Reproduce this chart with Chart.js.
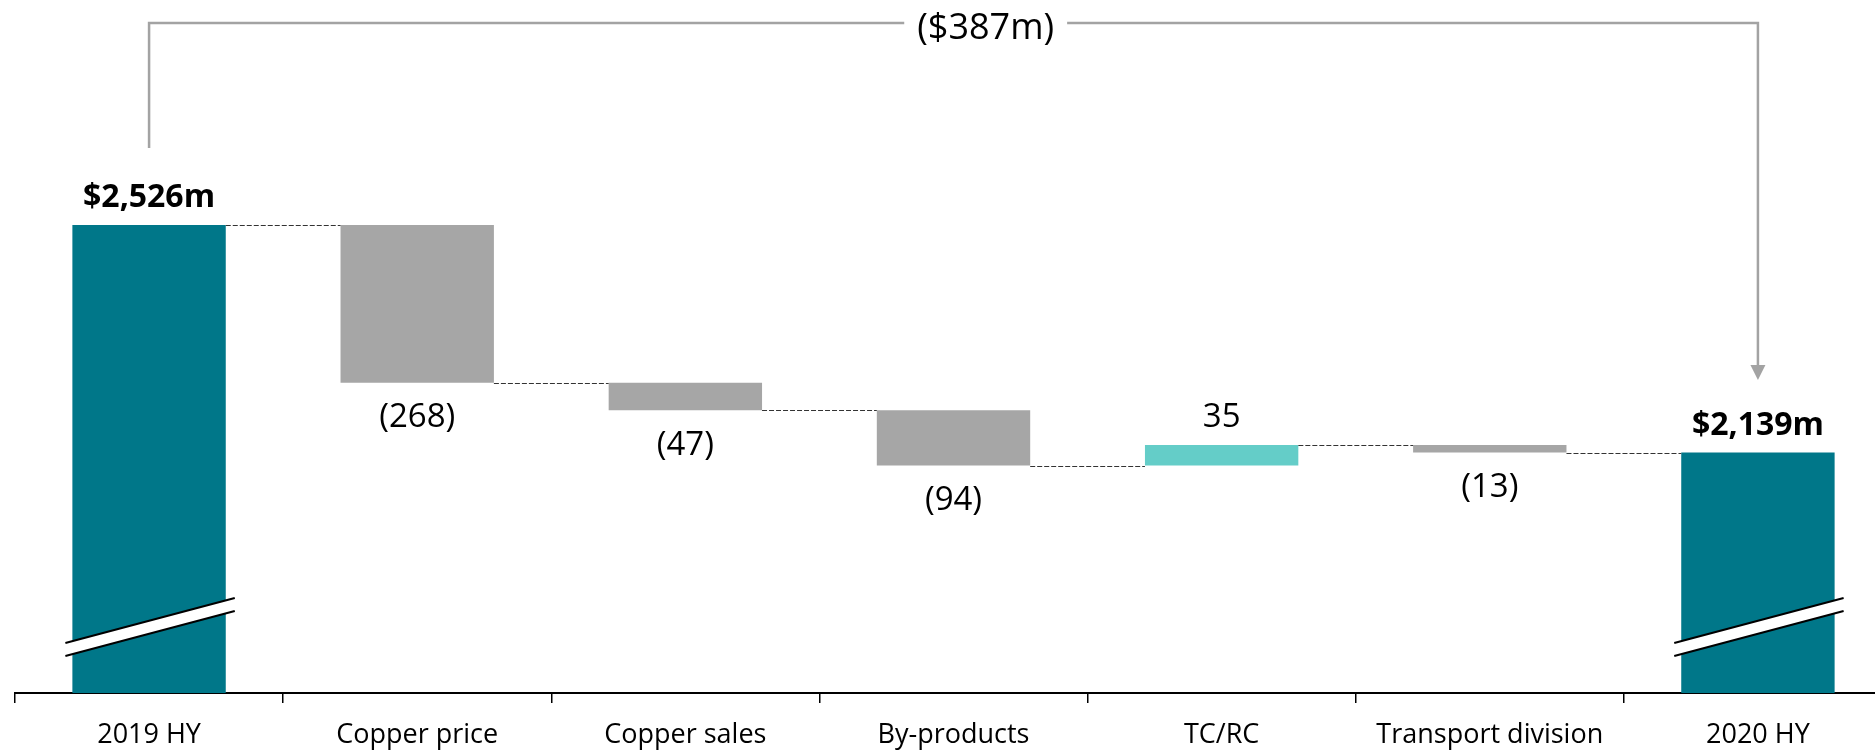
<!DOCTYPE html>
<html>
<head>
<meta charset="utf-8">
<script src="https://cdn.jsdelivr.net/npm/chart.js@4.4.1/dist/chart.umd.min.js"></script>
<style>
  html, body { margin: 0; padding: 0; background: #fff; overflow: hidden; }
  #wrap { position: absolute; left: 0; top: 0; width: 1900px; height: 751px; }
</style>
</head>
<body>
<div id="wrap"><canvas id="bridgeChart"></canvas></div>
<script>
const categories = ['2019 HY', 'Copper price', 'Copper sales', 'By-products', 'TC/RC', 'Transport division', '2020 HY'];
const startValue = 2526;
const changes = [-268, -47, -94, 35, -13];
const endValue = 2139;
const totalChange = -387;
const axisMin = 1730;
const axisMax = 2909;

const TEAL = '#007789';
const GREY = '#a6a6a6';
const LIGHT_TEAL = '#64cdc8';
const FONT = '"Open Sans", sans-serif';

// floating bars: [from, to]
let bars = [[0, startValue]];
let levels = [startValue];
let running = startValue;
changes.forEach(c => {
    bars.push([running, running + c]);
    running += c;
    levels.push(running);
});
bars.push([0, endValue]);

let colors = bars.map((b, i) => {
    if (i === 0 || i === bars.length - 1) return TEAL;
    return changes[i - 1] < 0 ? GREY : LIGHT_TEAL;
});

function money(v) {
    let s = '$' + Math.abs(v).toLocaleString('en-US') + 'm';
    return v < 0 ? '(' + s + ')' : s;
}

const bridgePlugin = {
    id: 'bridge',
    afterDatasetsDraw(chart) {
        const ctx = chart.ctx;
        const meta = chart.getDatasetMeta(0);
        const y = chart.scales.y;
        const area = chart.chartArea;
        const els = meta.data;

        // dashed connectors
        ctx.save();
        ctx.strokeStyle = '#333';
        ctx.lineWidth = 1;
        ctx.setLineDash([5, 2]);
        for (let i = 0; i < els.length - 1; i++) {
            let lvl = levels[i];
            let py = Math.round(y.getPixelForValue(lvl)) + 0.5;
            ctx.beginPath();
            ctx.moveTo(els[i].x + els[i].width / 2, py);
            ctx.lineTo(els[i + 1].x - els[i + 1].width / 2, py);
            ctx.stroke();
        }
        ctx.restore();

        // axis break marks on total bars
        [0, els.length - 1].forEach(i => {
            let el = els[i];
            let l = el.x - el.width / 2 - 7;
            let r = el.x + el.width / 2 + 9;
            let b = area.bottom;
            ctx.save();
            ctx.fillStyle = '#fff';
            ctx.beginPath();
            ctx.moveTo(l, b - 50);
            ctx.lineTo(r, b - 95);
            ctx.lineTo(r, b - 82);
            ctx.lineTo(l, b - 37);
            ctx.closePath();
            ctx.fill();
            ctx.strokeStyle = '#000';
            ctx.lineWidth = 2;
            ctx.beginPath();
            ctx.moveTo(l, b - 50);
            ctx.lineTo(r, b - 95);
            ctx.moveTo(l, b - 37);
            ctx.lineTo(r, b - 82);
            ctx.stroke();
            ctx.restore();
        });

        // value labels
        ctx.save();
        ctx.fillStyle = '#000';
        ctx.textAlign = 'center';
        ctx.textBaseline = 'middle';
        els.forEach((el, i) => {
            let top = Math.min(el.y, el.base);
            let bottom = Math.max(el.y, el.base);
            if (i === 0 || i === els.length - 1) {
                ctx.font = 'bold 32px ' + FONT;
                ctx.fillText(money(bars[i][1]), el.x, top - 27);
            } else {
                let c = changes[i - 1];
                ctx.font = '33px ' + FONT;
                if (c < 0) ctx.fillText('(' + Math.abs(c) + ')', el.x, bottom + 35);
                else ctx.fillText(String(c), el.x, top - 27);
            }
        });
        ctx.restore();
    },
    afterDraw(chart) {
        const ctx = chart.ctx;
        const els = chart.getDatasetMeta(0).data;
        const x0 = els[0].x;
        const x1 = els[els.length - 1].x;
        const topY = 23;
        const labelX = x0 + (x1 - x0) * 0.52;
        const label = money(totalChange);

        ctx.save();
        ctx.font = '36px ' + FONT;
        const half = ctx.measureText(label).width / 2 + 13;
        ctx.strokeStyle = '#a3a3a3';
        ctx.lineWidth = 2.5;
        ctx.beginPath();
        ctx.moveTo(x0, 148);
        ctx.lineTo(x0, topY);
        ctx.lineTo(labelX - half, topY);
        ctx.moveTo(labelX + half, topY);
        ctx.lineTo(x1, topY);
        ctx.lineTo(x1, 366);
        ctx.stroke();
        ctx.fillStyle = '#a3a3a3';
        ctx.beginPath();
        ctx.moveTo(x1 - 7.5, 365);
        ctx.lineTo(x1 + 7.5, 365);
        ctx.lineTo(x1, 380);
        ctx.closePath();
        ctx.fill();

        ctx.fillStyle = '#000';
        ctx.textAlign = 'center';
        ctx.textBaseline = 'middle';
        ctx.fillText(label, labelX, 29);
        ctx.restore();
    }
};

let ctx = document.getElementById('bridgeChart').getContext('2d');
let bridgeChart = new Chart(ctx, {
    type: 'bar',
    data: {
        labels: categories,
        datasets: [{
            data: bars,
            backgroundColor: colors,
            borderWidth: 0,
            barPercentage: 0.572,
            categoryPercentage: 1.0
        }]
    },
    options: {
        responsive: true,
        maintainAspectRatio: false,
        animation: false,
        layout: {
            padding: { left: 15, right: 8, top: 0, bottom: 0 }
        },
        plugins: {
            legend: { display: false },
            tooltip: { enabled: false }
        },
        scales: {
            y: {
                display: false,
                min: axisMin,
                max: axisMax
            },
            x: {
                afterFit: s => { s.height = 58; },
                border: { display: true, color: '#000', width: 2 },
                grid: {
                    display: true,
                    drawOnChartArea: false,
                    drawTicks: true,
                    tickLength: 10,
                    color: '#000',
                    lineWidth: 1.5,
                    offset: true
                },
                ticks: {
                    color: '#000',
                    padding: 16,
                    maxRotation: 0,
                    autoSkip: false,
                    font: { family: FONT, size: 27 }
                }
            }
        }
    },
    plugins: [bridgePlugin]
});
</script>
</body>
</html>
